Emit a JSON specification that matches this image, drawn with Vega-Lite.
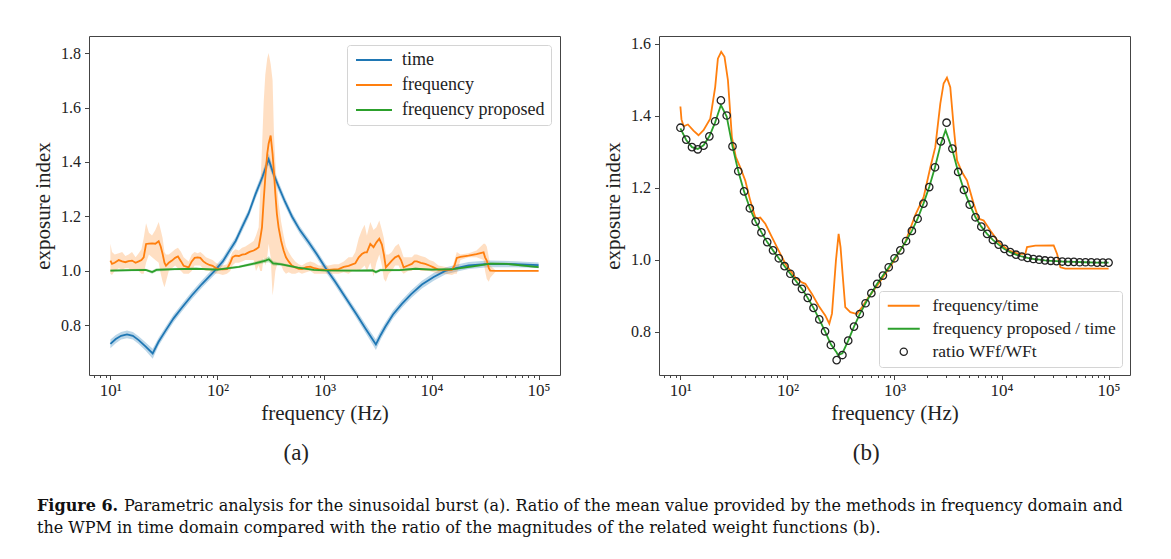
{
"$schema": "https://vega.github.io/schema/vega-lite/v6.json",
"background": "white",
"padding": {"left": 32, "top": 35, "right": 5, "bottom": 5},
"config": {
  "font": "Liberation Serif",
  "view": {"stroke": "#444", "strokeWidth": 1},
  "axis": {"domain": false, "grid": false, "tickColor": "#444", "labelColor": "#222", "titleColor": "#222", "labelFont": "Liberation Serif", "titleFont": "Liberation Serif", "labelFontSize": 16, "titleFontSize": 21, "titleFontWeight": "normal"},
  "legend": {"labelLimit": 0}
},
"datasets": {
"a": [
{"f":10,"s":"time","m":0.732,"lo":0.716,"hi":0.748},
{"f":11.22,"s":"time","m":0.750,"lo":0.735,"hi":0.765},
{"f":12.59,"s":"time","m":0.762,"lo":0.748,"hi":0.776},
{"f":14.29,"s":"time","m":0.767,"lo":0.753,"hi":0.781},
{"f":16.22,"s":"time","m":0.762,"lo":0.748,"hi":0.776},
{"f":18.37,"s":"time","m":0.746,"lo":0.732,"hi":0.760},
{"f":21.38,"s":"time","m":0.722,"lo":0.707,"hi":0.737},
{"f":24.83,"s":"time","m":0.697,"lo":0.678,"hi":0.714},
{"f":28.18,"s":"time","m":0.740,"lo":0.725,"hi":0.755},
{"f":32.66,"s":"time","m":0.780,"lo":0.766,"hi":0.794},
{"f":38.90,"s":"time","m":0.826,"lo":0.812,"hi":0.840},
{"f":46.67,"s":"time","m":0.866,"lo":0.852,"hi":0.880},
{"f":57.54,"s":"time","m":0.910,"lo":0.896,"hi":0.924},
{"f":71.61,"s":"time","m":0.952,"lo":0.938,"hi":0.966},
{"f":95.50,"s":"time","m":1.003,"lo":0.989,"hi":1.017},
{"f":112.2,"s":"time","m":1.035,"lo":1.021,"hi":1.049},
{"f":127.4,"s":"time","m":1.070,"lo":1.055,"hi":1.085},
{"f":147.9,"s":"time","m":1.110,"lo":1.095,"hi":1.125},
{"f":169.4,"s":"time","m":1.160,"lo":1.144,"hi":1.176},
{"f":195.0,"s":"time","m":1.210,"lo":1.194,"hi":1.226},
{"f":225.9,"s":"time","m":1.280,"lo":1.263,"hi":1.297},
{"f":263.0,"s":"time","m":1.345,"lo":1.327,"hi":1.363},
{"f":300.6,"s":"time","m":1.410,"lo":1.388,"hi":1.432},
{"f":331.1,"s":"time","m":1.360,"lo":1.342,"hi":1.378},
{"f":372.4,"s":"time","m":1.310,"lo":1.293,"hi":1.327},
{"f":426.6,"s":"time","m":1.255,"lo":1.239,"hi":1.271},
{"f":496.6,"s":"time","m":1.200,"lo":1.185,"hi":1.215},
{"f":588.8,"s":"time","m":1.150,"lo":1.136,"hi":1.164},
{"f":711.2,"s":"time","m":1.105,"lo":1.091,"hi":1.119},
{"f":851.1,"s":"time","m":1.060,"lo":1.046,"hi":1.074},
{"f":1016,"s":"time","m":1.013,"lo":0.999,"hi":1.027},
{"f":1259,"s":"time","m":0.960,"lo":0.946,"hi":0.974},
{"f":1679,"s":"time","m":0.885,"lo":0.871,"hi":0.899},
{"f":1995,"s":"time","m":0.840,"lo":0.825,"hi":0.855},
{"f":2404,"s":"time","m":0.790,"lo":0.774,"hi":0.806},
{"f":2692,"s":"time","m":0.760,"lo":0.743,"hi":0.777},
{"f":3020,"s":"time","m":0.730,"lo":0.710,"hi":0.748},
{"f":3350,"s":"time","m":0.765,"lo":0.748,"hi":0.782},
{"f":3698,"s":"time","m":0.795,"lo":0.779,"hi":0.811},
{"f":4365,"s":"time","m":0.840,"lo":0.825,"hi":0.855},
{"f":5284,"s":"time","m":0.879,"lo":0.865,"hi":0.893},
{"f":6457,"s":"time","m":0.915,"lo":0.901,"hi":0.929},
{"f":8128,"s":"time","m":0.950,"lo":0.936,"hi":0.964},
{"f":10471,"s":"time","m":0.978,"lo":0.964,"hi":0.992},
{"f":13428,"s":"time","m":1.000,"lo":0.987,"hi":1.013},
{"f":16982,"s":"time","m":1.010,"lo":0.997,"hi":1.023},
{"f":22182,"s":"time","m":1.020,"lo":1.007,"hi":1.033},
{"f":34041,"s":"time","m":1.026,"lo":1.014,"hi":1.038},
{"f":60395,"s":"time","m":1.025,"lo":1.014,"hi":1.036},
{"f":100000,"s":"time","m":1.021,"lo":1.011,"hi":1.031},
{"f":10,"s":"frequency","m":1.038,"lo":0.99,"hi":1.10},
{"f":10.35,"s":"frequency","m":1.026,"lo":0.985,"hi":1.07},
{"f":10.96,"s":"frequency","m":1.03,"lo":1.0,"hi":1.06},
{"f":11.97,"s":"frequency","m":1.04,"lo":1.01,"hi":1.065},
{"f":12.88,"s":"frequency","m":1.035,"lo":1.005,"hi":1.07},
{"f":13.80,"s":"frequency","m":1.032,"lo":1.01,"hi":1.055},
{"f":14.79,"s":"frequency","m":1.036,"lo":1.01,"hi":1.06},
{"f":15.92,"s":"frequency","m":1.038,"lo":1.0,"hi":1.07},
{"f":17.18,"s":"frequency","m":1.03,"lo":1.005,"hi":1.05},
{"f":18.37,"s":"frequency","m":1.035,"lo":1.0,"hi":1.065},
{"f":19.50,"s":"frequency","m":1.04,"lo":0.99,"hi":1.08},
{"f":20.46,"s":"frequency","m":1.05,"lo":0.99,"hi":1.12},
{"f":21.53,"s":"frequency","m":1.099,"lo":1.03,"hi":1.175},
{"f":22.91,"s":"frequency","m":1.10,"lo":1.06,"hi":1.14},
{"f":24.49,"s":"frequency","m":1.101,"lo":1.05,"hi":1.13},
{"f":26.30,"s":"frequency","m":1.10,"lo":1.04,"hi":1.15},
{"f":28.25,"s":"frequency","m":1.109,"lo":1.03,"hi":1.18},
{"f":29.51,"s":"frequency","m":1.09,"lo":0.99,"hi":1.15},
{"f":30.76,"s":"frequency","m":1.062,"lo":0.96,"hi":1.12},
{"f":31.99,"s":"frequency","m":1.03,"lo":0.94,"hi":1.07},
{"f":33.04,"s":"frequency","m":1.019,"lo":0.96,"hi":1.06},
{"f":35.08,"s":"frequency","m":1.03,"lo":1.0,"hi":1.06},
{"f":37.58,"s":"frequency","m":1.038,"lo":1.01,"hi":1.07},
{"f":40.27,"s":"frequency","m":1.048,"lo":1.02,"hi":1.08},
{"f":42.76,"s":"frequency","m":1.053,"lo":1.01,"hi":1.085},
{"f":45.71,"s":"frequency","m":1.035,"lo":1.0,"hi":1.07},
{"f":48.31,"s":"frequency","m":1.019,"lo":0.99,"hi":1.05},
{"f":53.83,"s":"frequency","m":1.013,"lo":0.99,"hi":1.035},
{"f":57.54,"s":"frequency","m":1.035,"lo":1.0,"hi":1.06},
{"f":61.24,"s":"frequency","m":1.048,"lo":1.02,"hi":1.07},
{"f":65.31,"s":"frequency","m":1.05,"lo":1.02,"hi":1.065},
{"f":69.18,"s":"frequency","m":1.048,"lo":1.02,"hi":1.07},
{"f":73.79,"s":"frequency","m":1.035,"lo":1.005,"hi":1.06},
{"f":78.16,"s":"frequency","m":1.028,"lo":1.0,"hi":1.05},
{"f":84.14,"s":"frequency","m":1.022,"lo":1.0,"hi":1.045},
{"f":90.16,"s":"frequency","m":1.019,"lo":0.995,"hi":1.04},
{"f":96.61,"s":"frequency","m":1.01,"lo":0.99,"hi":1.03},
{"f":102.6,"s":"frequency","m":1.007,"lo":0.99,"hi":1.025},
{"f":112.2,"s":"frequency","m":1.006,"lo":0.985,"hi":1.02},
{"f":122.7,"s":"frequency","m":1.007,"lo":0.99,"hi":1.025},
{"f":131.8,"s":"frequency","m":1.03,"lo":1.0,"hi":1.05},
{"f":138.0,"s":"frequency","m":1.05,"lo":1.02,"hi":1.07},
{"f":146.9,"s":"frequency","m":1.056,"lo":1.03,"hi":1.08},
{"f":158.5,"s":"frequency","m":1.055,"lo":1.03,"hi":1.075},
{"f":169.8,"s":"frequency","m":1.06,"lo":1.035,"hi":1.085},
{"f":182.4,"s":"frequency","m":1.062,"lo":1.04,"hi":1.09},
{"f":199.5,"s":"frequency","m":1.07,"lo":1.04,"hi":1.10},
{"f":217.8,"s":"frequency","m":1.075,"lo":1.04,"hi":1.11},
{"f":229.1,"s":"frequency","m":1.08,"lo":1.0,"hi":1.13},
{"f":242.7,"s":"frequency","m":1.087,"lo":1.02,"hi":1.16},
{"f":251.2,"s":"frequency","m":1.12,"lo":1.0,"hi":1.30},
{"f":260.6,"s":"frequency","m":1.16,"lo":1.0,"hi":1.45},
{"f":270.4,"s":"frequency","m":1.26,"lo":1.05,"hi":1.62},
{"f":279.9,"s":"frequency","m":1.344,"lo":1.02,"hi":1.72},
{"f":291.7,"s":"frequency","m":1.43,"lo":1.05,"hi":1.78},
{"f":300.6,"s":"frequency","m":1.467,"lo":1.1,"hi":1.80},
{"f":314.1,"s":"frequency","m":1.497,"lo":1.05,"hi":1.76},
{"f":327.3,"s":"frequency","m":1.43,"lo":0.91,"hi":1.70},
{"f":337.3,"s":"frequency","m":1.36,"lo":0.95,"hi":1.50},
{"f":347.5,"s":"frequency","m":1.283,"lo":1.0,"hi":1.40},
{"f":358.9,"s":"frequency","m":1.21,"lo":1.02,"hi":1.32},
{"f":372.4,"s":"frequency","m":1.16,"lo":1.03,"hi":1.25},
{"f":393.6,"s":"frequency","m":1.11,"lo":1.02,"hi":1.18},
{"f":415.0,"s":"frequency","m":1.075,"lo":1.0,"hi":1.13},
{"f":436.5,"s":"frequency","m":1.05,"lo":0.99,"hi":1.09},
{"f":462.4,"s":"frequency","m":1.035,"lo":0.995,"hi":1.07},
{"f":495.5,"s":"frequency","m":1.02,"lo":0.99,"hi":1.05},
{"f":533.3,"s":"frequency","m":1.013,"lo":0.99,"hi":1.035},
{"f":575.4,"s":"frequency","m":1.008,"lo":0.995,"hi":1.025},
{"f":615.2,"s":"frequency","m":1.007,"lo":0.99,"hi":1.02},
{"f":676.1,"s":"frequency","m":1.014,"lo":0.995,"hi":1.03},
{"f":736.2,"s":"frequency","m":1.016,"lo":1.0,"hi":1.035},
{"f":803.5,"s":"frequency","m":1.01,"lo":0.99,"hi":1.03},
{"f":881.0,"s":"frequency","m":1.007,"lo":0.99,"hi":1.02},
{"f":977.2,"s":"frequency","m":1.005,"lo":0.99,"hi":1.02},
{"f":1091,"s":"frequency","m":1.004,"lo":0.99,"hi":1.02},
{"f":1230,"s":"frequency","m":1.006,"lo":0.99,"hi":1.025},
{"f":1355,"s":"frequency","m":1.007,"lo":0.99,"hi":1.025},
{"f":1514,"s":"frequency","m":1.015,"lo":0.995,"hi":1.035},
{"f":1679,"s":"frequency","m":1.019,"lo":0.99,"hi":1.05},
{"f":1820,"s":"frequency","m":1.024,"lo":1.0,"hi":1.05},
{"f":1941,"s":"frequency","m":1.028,"lo":1.0,"hi":1.07},
{"f":2089,"s":"frequency","m":1.05,"lo":1.0,"hi":1.12},
{"f":2234,"s":"frequency","m":1.062,"lo":1.01,"hi":1.15},
{"f":2371,"s":"frequency","m":1.068,"lo":1.02,"hi":1.17},
{"f":2489,"s":"frequency","m":1.068,"lo":1.0,"hi":1.13},
{"f":2679,"s":"frequency","m":1.099,"lo":1.03,"hi":1.18},
{"f":2871,"s":"frequency","m":1.087,"lo":0.98,"hi":1.15},
{"f":3055,"s":"frequency","m":1.105,"lo":1.03,"hi":1.16},
{"f":3251,"s":"frequency","m":1.118,"lo":1.06,"hi":1.185},
{"f":3436,"s":"frequency","m":1.097,"lo":1.02,"hi":1.15},
{"f":3589,"s":"frequency","m":1.06,"lo":0.97,"hi":1.12},
{"f":3741,"s":"frequency","m":1.013,"lo":0.96,"hi":1.06},
{"f":3981,"s":"frequency","m":1.025,"lo":0.99,"hi":1.06},
{"f":4256,"s":"frequency","m":1.038,"lo":1.0,"hi":1.07},
{"f":4571,"s":"frequency","m":1.05,"lo":1.02,"hi":1.09},
{"f":4920,"s":"frequency","m":1.056,"lo":1.02,"hi":1.10},
{"f":5188,"s":"frequency","m":1.04,"lo":1.0,"hi":1.08},
{"f":5483,"s":"frequency","m":1.013,"lo":0.99,"hi":1.05},
{"f":6026,"s":"frequency","m":1.02,"lo":1.0,"hi":1.05},
{"f":6546,"s":"frequency","m":1.026,"lo":1.0,"hi":1.05},
{"f":6918,"s":"frequency","m":1.035,"lo":1.01,"hi":1.06},
{"f":7295,"s":"frequency","m":1.035,"lo":1.01,"hi":1.06},
{"f":7943,"s":"frequency","m":1.03,"lo":1.0,"hi":1.055},
{"f":8730,"s":"frequency","m":1.026,"lo":1.0,"hi":1.05},
{"f":9550,"s":"frequency","m":1.02,"lo":1.0,"hi":1.04},
{"f":10447,"s":"frequency","m":1.013,"lo":0.995,"hi":1.035},
{"f":11614,"s":"frequency","m":1.004,"lo":0.99,"hi":1.02},
{"f":13183,"s":"frequency","m":1.004,"lo":0.99,"hi":1.015},
{"f":15488,"s":"frequency","m":1.004,"lo":0.985,"hi":1.01},
{"f":16406,"s":"frequency","m":1.02,"lo":0.99,"hi":1.04},
{"f":17219,"s":"frequency","m":1.048,"lo":0.99,"hi":1.07},
{"f":18621,"s":"frequency","m":1.052,"lo":1.04,"hi":1.06},
{"f":22182,"s":"frequency","m":1.056,"lo":1.05,"hi":1.065},
{"f":26303,"s":"frequency","m":1.062,"lo":1.05,"hi":1.075},
{"f":30620,"s":"frequency","m":1.068,"lo":1.04,"hi":1.10},
{"f":31623,"s":"frequency","m":1.05,"lo":1.0,"hi":1.10},
{"f":32810,"s":"frequency","m":1.038,"lo":0.97,"hi":1.09},
{"f":34277,"s":"frequency","m":1.01,"lo":0.96,"hi":1.05},
{"f":35318,"s":"frequency","m":1.001,"lo":0.975,"hi":1.02},
{"f":39811,"s":"frequency","m":1.0,"lo":0.998,"hi":1.002},
{"f":100000,"s":"frequency","m":1.0,"lo":0.998,"hi":1.002},
{"f":10,"s":"frequency proposed","m":1.001,"lo":0.997,"hi":1.005},
{"f":15.85,"s":"frequency proposed","m":1.003,"lo":0.999,"hi":1.007},
{"f":21.38,"s":"frequency proposed","m":1.004,"lo":1.0,"hi":1.008},
{"f":24.55,"s":"frequency proposed","m":0.996,"lo":0.99,"hi":1.002},
{"f":26.92,"s":"frequency proposed","m":1.004,"lo":0.998,"hi":1.01},
{"f":39.81,"s":"frequency proposed","m":1.007,"lo":1.003,"hi":1.011},
{"f":63.10,"s":"frequency proposed","m":1.008,"lo":1.004,"hi":1.012},
{"f":100,"s":"frequency proposed","m":1.005,"lo":1.001,"hi":1.009},
{"f":158.5,"s":"frequency proposed","m":1.015,"lo":1.011,"hi":1.019},
{"f":223.9,"s":"frequency proposed","m":1.028,"lo":1.022,"hi":1.034},
{"f":281.8,"s":"frequency proposed","m":1.038,"lo":1.03,"hi":1.046},
{"f":302.0,"s":"frequency proposed","m":1.043,"lo":1.032,"hi":1.054},
{"f":331.1,"s":"frequency proposed","m":1.028,"lo":1.02,"hi":1.036},
{"f":398.1,"s":"frequency proposed","m":1.024,"lo":1.019,"hi":1.029},
{"f":562.3,"s":"frequency proposed","m":1.012,"lo":1.008,"hi":1.016},
{"f":794.3,"s":"frequency proposed","m":1.004,"lo":1.0,"hi":1.008},
{"f":1000,"s":"frequency proposed","m":1.002,"lo":0.998,"hi":1.006},
{"f":1995,"s":"frequency proposed","m":1.001,"lo":0.997,"hi":1.005},
{"f":2818,"s":"frequency proposed","m":1.002,"lo":0.997,"hi":1.007},
{"f":3020,"s":"frequency proposed","m":0.996,"lo":0.99,"hi":1.002},
{"f":3311,"s":"frequency proposed","m":1.003,"lo":0.998,"hi":1.008},
{"f":5012,"s":"frequency proposed","m":1.003,"lo":0.999,"hi":1.007},
{"f":7079,"s":"frequency proposed","m":1.008,"lo":1.004,"hi":1.012},
{"f":10000,"s":"frequency proposed","m":1.005,"lo":1.001,"hi":1.009},
{"f":15849,"s":"frequency proposed","m":1.007,"lo":1.003,"hi":1.011},
{"f":25119,"s":"frequency proposed","m":1.018,"lo":1.014,"hi":1.022},
{"f":35481,"s":"frequency proposed","m":1.027,"lo":1.023,"hi":1.031},
{"f":50119,"s":"frequency proposed","m":1.026,"lo":1.022,"hi":1.03},
{"f":100000,"s":"frequency proposed","m":1.014,"lo":1.01,"hi":1.018}
],
"b": [
{"f":10,"s":"frequency/time","v":1.426},
{"f":10.23,"s":"frequency/time","v":1.39},
{"f":10.72,"s":"frequency/time","v":1.371},
{"f":11.75,"s":"frequency/time","v":1.376},
{"f":13.24,"s":"frequency/time","v":1.359},
{"f":14.76,"s":"frequency/time","v":1.346},
{"f":16.44,"s":"frequency/time","v":1.36},
{"f":19.01,"s":"frequency/time","v":1.392},
{"f":21.13,"s":"frequency/time","v":1.48},
{"f":22.39,"s":"frequency/time","v":1.559},
{"f":24.04,"s":"frequency/time","v":1.578},
{"f":25.82,"s":"frequency/time","v":1.564},
{"f":27.80,"s":"frequency/time","v":1.499},
{"f":30.27,"s":"frequency/time","v":1.341},
{"f":32.96,"s":"frequency/time","v":1.285},
{"f":36.22,"s":"frequency/time","v":1.257},
{"f":40.36,"s":"frequency/time","v":1.22},
{"f":44.87,"s":"frequency/time","v":1.165},
{"f":50.00,"s":"frequency/time","v":1.118},
{"f":52.48,"s":"frequency/time","v":1.115},
{"f":55.72,"s":"frequency/time","v":1.117},
{"f":62.09,"s":"frequency/time","v":1.10},
{"f":71.61,"s":"frequency/time","v":1.063},
{"f":82.60,"s":"frequency/time","v":1.026},
{"f":95.50,"s":"frequency/time","v":0.989},
{"f":118.3,"s":"frequency/time","v":0.951},
{"f":136.5,"s":"frequency/time","v":0.937},
{"f":146.9,"s":"frequency/time","v":0.933},
{"f":169.4,"s":"frequency/time","v":0.905},
{"f":195.4,"s":"frequency/time","v":0.872},
{"f":225.4,"s":"frequency/time","v":0.845},
{"f":246.0,"s":"frequency/time","v":0.822},
{"f":260.6,"s":"frequency/time","v":0.85},
{"f":283.8,"s":"frequency/time","v":0.998},
{"f":300.6,"s":"frequency/time","v":1.072},
{"f":313.3,"s":"frequency/time","v":1.035},
{"f":327.3,"s":"frequency/time","v":0.961},
{"f":346.7,"s":"frequency/time","v":0.868},
{"f":386.4,"s":"frequency/time","v":0.854},
{"f":445.7,"s":"frequency/time","v":0.849},
{"f":496.6,"s":"frequency/time","v":0.868},
{"f":572.8,"s":"frequency/time","v":0.896},
{"f":709.6,"s":"frequency/time","v":0.933},
{"f":948.4,"s":"frequency/time","v":0.989},
{"f":1262,"s":"frequency/time","v":1.049},
{"f":1567,"s":"frequency/time","v":1.125},
{"f":1871,"s":"frequency/time","v":1.174},
{"f":2163,"s":"frequency/time","v":1.257},
{"f":2404,"s":"frequency/time","v":1.313},
{"f":2679,"s":"frequency/time","v":1.434},
{"f":2877,"s":"frequency/time","v":1.49},
{"f":3090,"s":"frequency/time","v":1.506},
{"f":3319,"s":"frequency/time","v":1.48},
{"f":3573,"s":"frequency/time","v":1.369},
{"f":3837,"s":"frequency/time","v":1.276},
{"f":4276,"s":"frequency/time","v":1.243},
{"f":4764,"s":"frequency/time","v":1.22},
{"f":5483,"s":"frequency/time","v":1.156},
{"f":6109,"s":"frequency/time","v":1.114},
{"f":6808,"s":"frequency/time","v":1.109},
{"f":7852,"s":"frequency/time","v":1.081},
{"f":9397,"s":"frequency/time","v":1.049},
{"f":11641,"s":"frequency/time","v":1.026},
{"f":14454,"s":"frequency/time","v":1.016},
{"f":16672,"s":"frequency/time","v":1.016},
{"f":17298,"s":"frequency/time","v":1.035},
{"f":20701,"s":"frequency/time","v":1.039},
{"f":30690,"s":"frequency/time","v":1.04},
{"f":33037,"s":"frequency/time","v":1.016},
{"f":35481,"s":"frequency/time","v":0.979},
{"f":39446,"s":"frequency/time","v":0.975},
{"f":100000,"s":"frequency/time","v":0.975},
{"f":10,"s":"frequency proposed / time","v":1.365},
{"f":11.33,"s":"frequency proposed / time","v":1.333},
{"f":12.83,"s":"frequency proposed / time","v":1.313},
{"f":14.53,"s":"frequency proposed / time","v":1.308},
{"f":16.45,"s":"frequency proposed / time","v":1.318},
{"f":18.64,"s":"frequency proposed / time","v":1.343},
{"f":21.11,"s":"frequency proposed / time","v":1.382},
{"f":23.90,"s":"frequency proposed / time","v":1.43},
{"f":27.07,"s":"frequency proposed / time","v":1.398},
{"f":30.66,"s":"frequency proposed / time","v":1.315},
{"f":34.73,"s":"frequency proposed / time","v":1.246},
{"f":39.33,"s":"frequency proposed / time","v":1.190},
{"f":44.54,"s":"frequency proposed / time","v":1.143},
{"f":50.45,"s":"frequency proposed / time","v":1.106},
{"f":57.14,"s":"frequency proposed / time","v":1.076},
{"f":64.71,"s":"frequency proposed / time","v":1.049},
{"f":73.29,"s":"frequency proposed / time","v":1.026},
{"f":82.99,"s":"frequency proposed / time","v":1.004},
{"f":93.97,"s":"frequency proposed / time","v":0.982},
{"f":106.4,"s":"frequency proposed / time","v":0.961},
{"f":120.5,"s":"frequency proposed / time","v":0.940},
{"f":136.5,"s":"frequency proposed / time","v":0.919},
{"f":154.6,"s":"frequency proposed / time","v":0.894},
{"f":175.1,"s":"frequency proposed / time","v":0.866},
{"f":198.3,"s":"frequency proposed / time","v":0.834},
{"f":224.6,"s":"frequency proposed / time","v":0.801},
{"f":254.4,"s":"frequency proposed / time","v":0.765},
{"f":288.1,"s":"frequency proposed / time","v":0.742},
{"f":296.5,"s":"frequency proposed / time","v":0.735},
{"f":326.2,"s":"frequency proposed / time","v":0.740},
{"f":369.5,"s":"frequency proposed / time","v":0.775},
{"f":418.4,"s":"frequency proposed / time","v":0.814},
{"f":473.9,"s":"frequency proposed / time","v":0.849},
{"f":536.7,"s":"frequency proposed / time","v":0.879},
{"f":607.8,"s":"frequency proposed / time","v":0.907},
{"f":688.3,"s":"frequency proposed / time","v":0.933},
{"f":779.6,"s":"frequency proposed / time","v":0.956},
{"f":882.9,"s":"frequency proposed / time","v":0.979},
{"f":1000,"s":"frequency proposed / time","v":1.004},
{"f":1133,"s":"frequency proposed / time","v":1.026},
{"f":1283,"s":"frequency proposed / time","v":1.052},
{"f":1453,"s":"frequency proposed / time","v":1.080},
{"f":1645,"s":"frequency proposed / time","v":1.114},
{"f":1864,"s":"frequency proposed / time","v":1.156},
{"f":2111,"s":"frequency proposed / time","v":1.202},
{"f":2390,"s":"frequency proposed / time","v":1.257},
{"f":2707,"s":"frequency proposed / time","v":1.322},
{"f":3000,"s":"frequency proposed / time","v":1.36},
{"f":3473,"s":"frequency proposed / time","v":1.305},
{"f":3933,"s":"frequency proposed / time","v":1.244},
{"f":4454,"s":"frequency proposed / time","v":1.194},
{"f":5045,"s":"frequency proposed / time","v":1.153},
{"f":5714,"s":"frequency proposed / time","v":1.118},
{"f":6471,"s":"frequency proposed / time","v":1.092},
{"f":7329,"s":"frequency proposed / time","v":1.072},
{"f":8299,"s":"frequency proposed / time","v":1.055},
{"f":9397,"s":"frequency proposed / time","v":1.042},
{"f":10643,"s":"frequency proposed / time","v":1.030},
{"f":12054,"s":"frequency proposed / time","v":1.021},
{"f":13652,"s":"frequency proposed / time","v":1.014},
{"f":15462,"s":"frequency proposed / time","v":1.009},
{"f":17512,"s":"frequency proposed / time","v":1.005},
{"f":19832,"s":"frequency proposed / time","v":1.002},
{"f":22461,"s":"frequency proposed / time","v":1.000},
{"f":25438,"s":"frequency proposed / time","v":0.998},
{"f":28810,"s":"frequency proposed / time","v":0.997},
{"f":32629,"s":"frequency proposed / time","v":0.996},
{"f":36954,"s":"frequency proposed / time","v":0.995},
{"f":47401,"s":"frequency proposed / time","v":0.994},
{"f":60801,"s":"frequency proposed / time","v":0.993},
{"f":77990,"s":"frequency proposed / time","v":0.992},
{"f":100000,"s":"frequency proposed / time","v":0.992},
{"f":10,"s":"ratio WFf/WFt","v":1.367},
{"f":11.33,"s":"ratio WFf/WFt","v":1.334},
{"f":12.83,"s":"ratio WFf/WFt","v":1.313},
{"f":14.53,"s":"ratio WFf/WFt","v":1.307},
{"f":16.45,"s":"ratio WFf/WFt","v":1.317},
{"f":18.64,"s":"ratio WFf/WFt","v":1.343},
{"f":21.11,"s":"ratio WFf/WFt","v":1.385},
{"f":23.90,"s":"ratio WFf/WFt","v":1.443},
{"f":27.07,"s":"ratio WFf/WFt","v":1.401},
{"f":30.66,"s":"ratio WFf/WFt","v":1.315},
{"f":34.73,"s":"ratio WFf/WFt","v":1.246},
{"f":39.33,"s":"ratio WFf/WFt","v":1.190},
{"f":44.54,"s":"ratio WFf/WFt","v":1.143},
{"f":50.45,"s":"ratio WFf/WFt","v":1.106},
{"f":57.14,"s":"ratio WFf/WFt","v":1.076},
{"f":64.71,"s":"ratio WFf/WFt","v":1.049},
{"f":73.29,"s":"ratio WFf/WFt","v":1.026},
{"f":82.99,"s":"ratio WFf/WFt","v":1.004},
{"f":93.97,"s":"ratio WFf/WFt","v":0.982},
{"f":106.4,"s":"ratio WFf/WFt","v":0.961},
{"f":120.5,"s":"ratio WFf/WFt","v":0.940},
{"f":136.5,"s":"ratio WFf/WFt","v":0.919},
{"f":154.6,"s":"ratio WFf/WFt","v":0.894},
{"f":175.1,"s":"ratio WFf/WFt","v":0.866},
{"f":198.3,"s":"ratio WFf/WFt","v":0.834},
{"f":224.6,"s":"ratio WFf/WFt","v":0.801},
{"f":254.4,"s":"ratio WFf/WFt","v":0.763},
{"f":288.1,"s":"ratio WFf/WFt","v":0.721},
{"f":326.2,"s":"ratio WFf/WFt","v":0.735},
{"f":369.5,"s":"ratio WFf/WFt","v":0.775},
{"f":418.4,"s":"ratio WFf/WFt","v":0.814},
{"f":473.9,"s":"ratio WFf/WFt","v":0.849},
{"f":536.7,"s":"ratio WFf/WFt","v":0.879},
{"f":607.8,"s":"ratio WFf/WFt","v":0.907},
{"f":688.3,"s":"ratio WFf/WFt","v":0.933},
{"f":779.6,"s":"ratio WFf/WFt","v":0.956},
{"f":882.9,"s":"ratio WFf/WFt","v":0.979},
{"f":1000,"s":"ratio WFf/WFt","v":1.004},
{"f":1133,"s":"ratio WFf/WFt","v":1.026},
{"f":1283,"s":"ratio WFf/WFt","v":1.052},
{"f":1453,"s":"ratio WFf/WFt","v":1.080},
{"f":1645,"s":"ratio WFf/WFt","v":1.114},
{"f":1864,"s":"ratio WFf/WFt","v":1.156},
{"f":2111,"s":"ratio WFf/WFt","v":1.202},
{"f":2390,"s":"ratio WFf/WFt","v":1.257},
{"f":2707,"s":"ratio WFf/WFt","v":1.329},
{"f":3066,"s":"ratio WFf/WFt","v":1.381},
{"f":3473,"s":"ratio WFf/WFt","v":1.309},
{"f":3933,"s":"ratio WFf/WFt","v":1.244},
{"f":4454,"s":"ratio WFf/WFt","v":1.194},
{"f":5045,"s":"ratio WFf/WFt","v":1.153},
{"f":5714,"s":"ratio WFf/WFt","v":1.118},
{"f":6471,"s":"ratio WFf/WFt","v":1.092},
{"f":7329,"s":"ratio WFf/WFt","v":1.072},
{"f":8299,"s":"ratio WFf/WFt","v":1.055},
{"f":9397,"s":"ratio WFf/WFt","v":1.042},
{"f":10643,"s":"ratio WFf/WFt","v":1.030},
{"f":12054,"s":"ratio WFf/WFt","v":1.021},
{"f":13652,"s":"ratio WFf/WFt","v":1.014},
{"f":15462,"s":"ratio WFf/WFt","v":1.009},
{"f":17512,"s":"ratio WFf/WFt","v":1.005},
{"f":19832,"s":"ratio WFf/WFt","v":1.002},
{"f":22461,"s":"ratio WFf/WFt","v":1.000},
{"f":25438,"s":"ratio WFf/WFt","v":0.998},
{"f":28810,"s":"ratio WFf/WFt","v":0.997},
{"f":32629,"s":"ratio WFf/WFt","v":0.996},
{"f":36954,"s":"ratio WFf/WFt","v":0.995},
{"f":41853,"s":"ratio WFf/WFt","v":0.994},
{"f":47401,"s":"ratio WFf/WFt","v":0.994},
{"f":53684,"s":"ratio WFf/WFt","v":0.993},
{"f":60801,"s":"ratio WFf/WFt","v":0.993},
{"f":68862,"s":"ratio WFf/WFt","v":0.993},
{"f":77990,"s":"ratio WFf/WFt","v":0.992},
{"f":88329,"s":"ratio WFf/WFt","v":0.992},
{"f":100000,"s":"ratio WFf/WFt","v":0.992}
],
"cap": [
{"k":"bold","line":1,"t":"Figure 6."},
{"k":"r1","line":1,"t":"Parametric analysis for the sinusoidal burst (a). Ratio of the mean value provided by the methods in frequency domain and"},
{"k":"r2","line":2,"t":"the WPM in time domain compared with the ratio of the magnitudes of the related weight functions (b)."}
]
},
"vconcat": [
{
"hconcat": [
{
"width": 471, "height": 339,
"data": {"name": "a"},
"title": {"text": "(a)", "orient": "bottom", "frame": "bounds", "anchor": "middle", "fontSize": 23, "font": "Liberation Serif", "fontWeight": "normal", "offset": 18, "color": "#222"},
"layer": [
{"transform": [{"filter": "datum.s == 'time'"}],
 "mark": {"type": "area", "color": "#1f77b4", "opacity": 0.3},
 "encoding": {
  "x": {"field": "f", "type": "quantitative", "scale": {"type": "log", "domain": [6.31, 158489], "nice": false},
        "axis": {"orient": "bottom", "values": [7,8,9,20,30,40,50,60,70,80,90,200,300,400,500,600,700,800,900,2000,3000,4000,5000,6000,7000,8000,9000,20000,30000,40000,50000,60000,70000,80000,90000], "labels": false, "tickSize": 2.5, "title": null}},
  "y": {"field": "lo", "type": "quantitative", "scale": {"domain": [0.618, 1.8625], "nice": false, "zero": false},
        "axis": {"values": [0.8,1.0,1.2,1.4,1.6,1.8], "format": ".1f", "title": "exposure index", "tickSize": 4.5, "labelPadding": 4, "titlePadding": 7}},
  "y2": {"field": "hi"}}},
{"transform": [{"filter": "datum.s == 'frequency'"}],
 "mark": {"type": "area", "color": "#ff7f0e", "opacity": 0.25},
 "encoding": {
  "x": {"field": "f", "type": "quantitative", "axis": null},
  "y": {"field": "lo", "type": "quantitative"},
  "y2": {"field": "hi"}}},
{"transform": [{"filter": "datum.s == 'frequency proposed'"}],
 "mark": {"type": "area", "color": "#2ca02c", "opacity": 0.3},
 "encoding": {
  "x": {"field": "f", "type": "quantitative", "axis": null},
  "y": {"field": "lo", "type": "quantitative"},
  "y2": {"field": "hi"}}},
{"mark": {"type": "line", "strokeWidth": 1.8},
 "encoding": {
  "x": {"field": "f", "type": "quantitative",
        "axis": {"orient": "bottom", "values": [10,100,1000,10000,100000], "tickSize": 4.5, "labelPadding": 3, "labelFontSize": 17, "labelExpr": "'10' + ['⁰','¹','²','³','⁴','⁵'][round(log(datum.value)/LN10)]", "title": "frequency (Hz)", "titlePadding": 4}},
  "y": {"field": "m", "type": "quantitative"},
  "color": {"field": "s", "type": "nominal",
        "scale": {"domain": ["time","frequency","frequency proposed"], "range": ["#1f77b4","#ff7f0e","#2ca02c"]},
        "legend": {"title": null, "orient": "top-right", "offset": 9, "symbolType": "M-1,0H5", "symbolSize": 144, "symbolStrokeWidth": 2, "labelFontSize": 18, "labelFont": "Liberation Serif", "labelColor": "#222", "labelOffset": 31, "fillColor": "white", "strokeColor": "#d4d4d4", "cornerRadius": 3, "padding": 6, "rowPadding": 7,
          "encode": {"symbols": {"update": {"fill": {"value": "transparent"}, "strokeWidth": {"value": 2}}}}}}}}
],
"resolve": {"axis": {"x": "independent"}}
},
{
"width": 471, "height": 339,
"data": {"name": "b"},
"title": {"text": "(b)", "orient": "bottom", "frame": "bounds", "anchor": "middle", "fontSize": 23, "font": "Liberation Serif", "fontWeight": "normal", "offset": 18, "color": "#222"},
"layer": [
{"transform": [{"filter": "datum.s != 'ratio WFf/WFt'"}],
 "mark": {"type": "line", "strokeWidth": 1.8},
 "encoding": {
  "x": {"field": "f", "type": "quantitative", "scale": {"type": "log", "domain": [6.31, 158489], "nice": false},
        "axis": {"orient": "bottom", "values": [10,100,1000,10000,100000], "tickSize": 4.5, "labelPadding": 3, "labelFontSize": 17, "labelExpr": "'10' + ['⁰','¹','²','³','⁴','⁵'][round(log(datum.value)/LN10)]", "title": "frequency (Hz)", "titlePadding": 4}},
  "y": {"field": "v", "type": "quantitative", "scale": {"domain": [0.6795, 1.622], "nice": false, "zero": false},
        "axis": {"values": [0.8,1.0,1.2,1.4,1.6], "format": ".1f", "title": "exposure index", "tickSize": 4.5, "labelPadding": 4, "titlePadding": 7}},
  "color": {"field": "s", "type": "nominal",
        "scale": {"domain": ["frequency/time","frequency proposed / time","ratio WFf/WFt"], "range": ["#ff7f0e","#2ca02c","#222222"]},
        "legend": {"title": null, "orient": "bottom-right", "offset": 8, "symbolType": "M-1,0H4.333", "symbolSize": 144, "symbolStrokeWidth": 2, "labelFontSize": 17.5, "labelFont": "Liberation Serif", "labelColor": "#222", "labelOffset": 30, "fillColor": "white", "strokeColor": "#d4d4d4", "cornerRadius": 3, "padding": 6, "rowPadding": 4,
          "encode": {"symbols": {"update": {
            "shape": {"signal": "datum.value == 'ratio WFf/WFt' ? 'M2.267,0A0.6,0.6 0 1,1 1.067,0A0.6,0.6 0 1,1 2.267,0Z' : 'M-1,0H4.333'"},
            "fill": {"value": "transparent"},
            "strokeWidth": {"signal": "datum.value == 'ratio WFf/WFt' ? 1.3 : 2"},
            "stroke": {"signal": "datum.value == 'frequency/time' ? '#ff7f0e' : datum.value == 'frequency proposed / time' ? '#2ca02c' : '#222222'"}}}}}}}},
{"transform": [{"filter": "datum.s == 'ratio WFf/WFt'"}],
 "mark": {"type": "point", "shape": "circle", "filled": false, "stroke": "#222222", "strokeWidth": 1.3, "size": 55, "opacity": 1},
 "encoding": {
  "x": {"field": "f", "type": "quantitative",
        "axis": {"orient": "bottom", "values": [7,8,9,20,30,40,50,60,70,80,90,200,300,400,500,600,700,800,900,2000,3000,4000,5000,6000,7000,8000,9000,20000,30000,40000,50000,60000,70000,80000,90000], "labels": false, "tickSize": 2.5, "title": null}},
  "y": {"field": "v", "type": "quantitative"}}}
],
"resolve": {"axis": {"x": "independent"}}
}
],
"spacing": 41,
"resolve": {"scale": {"color": "independent", "x": "independent", "y": "independent"}, "legend": {"color": "independent"}}
},
{
"width": 1100, "height": 44,
"view": {"stroke": null},
"data": {"name": "cap"},
"encoding": {
  "x": {"datum": 0, "type": "quantitative", "scale": {"domain": [0, 1]}, "axis": null},
  "y": {"field": "line", "type": "ordinal", "axis": null},
  "text": {"field": "t"}
},
"layer": [
{"transform": [{"filter": "datum.k == 'bold'"}], "mark": {"type": "text", "align": "left", "baseline": "middle", "font": "DejaVu Serif", "fontSize": 16, "fontWeight": "bold", "color": "#111", "dx": -52}},
{"transform": [{"filter": "datum.k == 'r1'"}], "mark": {"type": "text", "align": "left", "baseline": "middle", "font": "DejaVu Serif", "fontSize": 16, "color": "#111", "dx": 35}},
{"transform": [{"filter": "datum.k == 'r2'"}], "mark": {"type": "text", "align": "left", "baseline": "middle", "font": "DejaVu Serif", "fontSize": 16, "color": "#111", "dx": -52}}
]
}
],
"spacing": 30
}
